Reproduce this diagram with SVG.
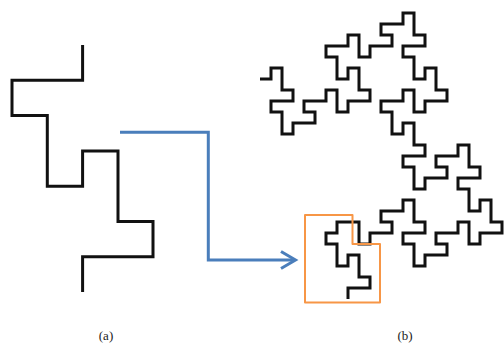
<svg xmlns="http://www.w3.org/2000/svg" width="504" height="344" viewBox="0 0 504 344">
<style>
.curve{fill:none;stroke:#111;stroke-width:3;stroke-linejoin:miter;stroke-linecap:butt}
.arrow{fill:none;stroke:#4a7ebb;stroke-width:3;stroke-linejoin:miter}
.box{fill:none;stroke:#f79646;stroke-width:2;stroke-linejoin:round}
.lbl{font-family:"Liberation Serif",serif;font-size:13px;fill:#222;text-anchor:middle}
</style>
<rect width="504" height="344" fill="#fff"/>
<g id="generator">
<polyline class="curve" stroke-width="3.4" points="82.6,45 82.6,80.3 12,80.3 12,115.6 47.3,115.6 47.3,186.2 82.6,186.2 82.6,151 118,151 118,221.5 153,221.5 153,256.8 82.6,256.8 82.6,292"/>
</g>
<g id="dragon">
<polyline class="curve" points="260,79 271,79 271,68 282,68 282,90 293,90 293,101 271,101 271,112 282,112 282,134 293,134 293,123 315,123 315,112 304,112 304,101 326,101 326,90 337,90 337,112 348,112 348,101 370,101 370,90 359,90 359,68 348,68 348,79 337,79 337,57 326,57 326,46 348,46 348,35 359,35 359,57 370,57 370,46 392,46 392,35 381,35 381,24 403,24 403,13 414,13 414,35 425,35 425,46 403,46 403,57 414,57 414,79 425,79 425,68 436,68 436,90 447,90 447,101 425,101 425,112 414,112 414,90 403,90 403,101 381,101 381,112 392,112 392,134 403,134 403,123 414,123 414,145 425,145 425,156 403,156 403,167 414,167 414,189 425,189 425,178 447,178 447,167 436,167 436,156 458,156 458,145 469,145 469,167 480,167 480,178 458,178 458,189 469,189 469,211 480,211 480,200 491,200 491,222 502,222 502,233 480,233 480,244 469,244 469,222 458,222 458,233 436,233 436,244 447,244 447,255 425,255 425,266 414,266 414,244 403,244 403,233 425,233 425,222 414,222 414,200 403,200 403,211 381,211 381,222 392,222 392,233 370,233 370,244 359,244 359,222 337,222 337,233 326,233 326,244 337,244 337,266 348,266 348,255 359,255 359,277 370,277 370,288 348,288 348,299"/>
</g>
<g id="highlight">
<polygon class="box" points="305,215 352.5,215 352.5,244 380,244 380,302.5 305,302.5"/>
</g>
<g id="connectors">
<polyline class="arrow" points="120,132.3 208.3,132.3 208.3,260 294,260"/>
<polyline class="arrow" points="281,251.5 295.5,260 281,268.5"/>
</g>
<g id="labels">
<text class="lbl" x="106" y="340">(a)</text>
<text class="lbl" x="405" y="340">(b)</text>
</g>
</svg>
